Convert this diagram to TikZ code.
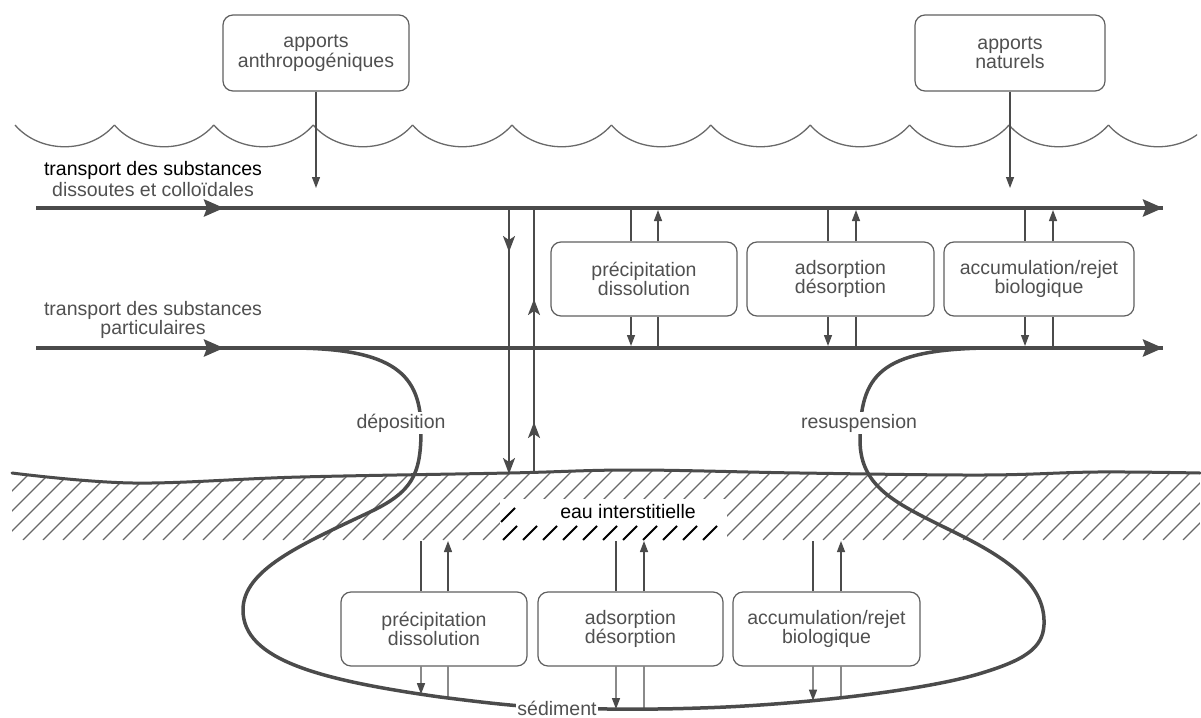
\documentclass[tikz,border=0pt]{standalone}
\usepackage{fontspec}
\setmainfont{Liberation Sans}
\usetikzlibrary{arrows.meta,intersections}
\definecolor{lc}{RGB}{75,75,75}
\definecolor{tc}{RGB}{80,80,80}
\definecolor{hc}{RGB}{105,105,105}
\definecolor{bc}{RGB}{95,95,95}
\begin{document}
\begin{tikzpicture}[x=1pt,y=-1pt,
  font=\fontsize{19.5}{19.5}\selectfont,
  box/.style={draw=bc, line width=1.2pt, rounded corners=10pt, text=tc, align=center, inner sep=0pt, minimum height=74pt},
  lbl/.style={text=tc, align=center, inner sep=0pt},
  blbl/.style={text=black, align=center, inner sep=0pt},
  cutlbl/.style={text=tc, fill=white, inner sep=2pt},
  mainline/.style={draw=lc, line width=3.8pt},
  bigtip/.style={-{Stealth[length=20pt,width=17pt,inset=3pt]}},
  thinl/.style={draw=lc, line width=1.3pt},
  sarrow/.style={thinl, -{Triangle[length=11pt,width=8pt]}},
  varrow/.style={draw=lc, line width=2.2pt},
  vtip/.style={-{Stealth[length=16pt,width=12pt,inset=4pt]}},
  wave/.style={draw=hc, line width=1.3pt},
  hatchline/.style={draw=hc, line width=1.2pt},
  ground/.style={draw=lc, line width=3pt, line cap=round},
  curve/.style={draw=lc, line width=3.5pt},
  blackdash/.style={draw=black, line width=1.8pt},
]
\useasboundingbox (0,0) rectangle (1201,717);

% ---------- reference coordinates ----------
\coordinate (dline) at (0,208);
\coordinate (pline) at (0,348);
\coordinate (hb) at (0,541);
\coordinate (dstart) at (36,208);
\coordinate (dmid) at (224,208);
\coordinate (dend) at (1163,208);
\coordinate (pstart) at (36,348);
\coordinate (pmid) at (224,348);
\coordinate (pend) at (1163,348);

% ---------- hatched sediment ----------
\begin{scope}
  \clip plot[smooth, tension=0.6] coordinates {(12,473) (133,483) (300,477) (509,473) (633,470) (800,473) (983,475) (1097,472) (1200,473)} -- (1200,540) -- (12,540) -- cycle;
  \foreach \x in {-77,-57,...,1203} \draw[hatchline] (\x,540) -- ++(80,-80);
\end{scope}
\fill[white] (500,499) rectangle (727,543);
\foreach \b in {503,523,...,703} \draw[blackdash] (\b,540) -- ++(14,-14);
\draw[blackdash] (501,522) -- ++(14,-14);
\node[blbl] (eau) at (628,512) {eau interstitielle};

\draw[ground] plot[smooth, tension=0.6] coordinates {(12,473) (133,483) (300,477) (509,473) (633,470) (800,473) (983,475) (1097,472) (1200,473)};

% ---------- water surface ----------
\begin{scope}
  \clip (0,100) rectangle (1197,160);
  \foreach \i in {0,...,11}
    \draw[wave] (15+99.4*\i,125) .. controls +(25,29) and +(-25,29) .. (114.4+99.4*\i,125);
\end{scope}

% ---------- deposition / resuspension / sediment curve ----------
\draw[curve, name path=sed] (290,348) .. controls (395,348) and (421,375) .. (421,430)
  .. controls (421,475) and (412,492) .. (370,512)
  .. controls (300,545) and (243,570) .. (243,610)
  .. controls (243,660) and (320,680) .. (440,697)
  .. controls (480,702) and (520,707) .. (557,708)
  .. controls (600,709) and (640,710) .. (700,708)
  .. controls (800,705) and (930,690) .. (985,672)
  .. controls (1030,658) and (1045,645) .. (1044,620)
  .. controls (1043,585) and (1010,560) .. (960,535)
  .. controls (900,505) and (860,490) .. (860,440)
  .. controls (860,375) and (880,350) .. (985,348);

\node[cutlbl] (depo) at (401,423) {déposition};
\node[cutlbl] (resu) at (859,423) {resuspension};
\node[cutlbl, inner sep=1pt] (sed) at (557,708) {sédiment};

% ---------- main transport lines ----------
\draw[mainline] (dstart) -- (dend);
\draw[mainline, bigtip] (dstart) -- (dmid);
\draw[mainline, bigtip] (dmid) -- (dend);
\draw[mainline] (pstart) -- (pend);
\draw[mainline, bigtip] (pstart) -- (pmid);
\draw[mainline, bigtip] (pmid) -- (pend);

\node[blbl] (tdT) at (153,170) {transport des substances};
\node[lbl] (tdD) at (153,190) {dissoutes et colloïdales};
\node[lbl] (tp) at (153,320) {transport des substances\\particulaires};

% ---------- inputs ----------
\node[box, minimum width=186pt, minimum height=76pt] (anth) at (316,53) {apports\\anthropogéniques};
\node[box, minimum width=190pt, minimum height=76pt] (nat) at (1010,53) {apports\\naturels};
\coordinate (anthEnd) at (316,188);
\coordinate (natEnd) at (1010,188);
\draw[sarrow] (anth.south) -- (anthEnd);
\draw[sarrow] (nat.south) -- (natEnd);

% ---------- vertical exchange water/sediment ----------
\coordinate (vaT) at (509,208);
\coordinate (vaM) at (509,252);
\coordinate (vaL) at (509,400);
\coordinate (vaB) at (509,474);
\coordinate (vbT) at (534,208);
\coordinate (vbM) at (534,299);
\coordinate (vbL) at (534,422);
\coordinate (vbB) at (534,473);
\coordinate (vbU) at (534,350);
\draw[varrow] (vaT) -- (vaB);
\draw[varrow, vtip] (vaT) -- (vaM);
\draw[varrow, vtip] (vaL) -- (vaB);
\draw[varrow] (vbB) -- (vbT);
\draw[varrow, vtip] (vbU) -- (vbM);
\draw[varrow, vtip] (vbB) -- (vbL);

% ---------- upper process boxes ----------
\node[box, minimum width=186pt] (U1) at (644,279) {précipitation\\dissolution};
\node[box, minimum width=187pt] (U2) at (840.5,279) {adsorption\\désorption};
\node[box, minimum width=190pt] (U3) at (1039,279) {accumulation/rejet\\biologique};

\foreach \b/\xa/\xb in {U1/631/658, U2/828/856, U3/1025/1053}{
  \coordinate (xa) at (\xa,0);
  \coordinate (xb) at (\xb,0);
  \draw[thinl] (dline -| xa) -- (\b.north -| xa);
  \draw[sarrow, shorten >=2pt] (\b.north -| xb) -- (dline -| xb);
  \draw[sarrow, shorten >=2pt] (\b.south -| xa) -- (pline -| xa);
  \draw[thinl] (pline -| xb) -- (\b.south -| xb);
}

% ---------- lower process boxes ----------
\node[box, minimum width=186pt] (L1) at (434,629) {précipitation\\dissolution};
\node[box, minimum width=185pt] (L2) at (630.5,629) {adsorption\\désorption};
\node[box, minimum width=187pt] (L3) at (826.5,629) {accumulation/rejet\\biologique};

\foreach \n/\xx in {e1a/421, e1b/448, e2a/616, e2b/644, e3a/813, e3b/841}{
  \path[name path=vv] (\xx,668) -- (\xx,716);
  \path[name intersections={of=sed and vv, by=\n}];
}

\foreach \b/\xa/\xb/\ea/\eb in {L1/421/448/e1a/e1b, L2/616/644/e2a/e2b, L3/813/841/e3a/e3b}{
  \coordinate (xa) at (\xa,0);
  \coordinate (xb) at (\xb,0);
  \draw[thinl] (hb -| xa) -- (\b.north -| xa);
  \draw[sarrow] (\b.north -| xb) -- (hb -| xb);
  \draw[sarrow] (\b.south -| xa) -- (\ea);
  \draw[thinl] (\eb) -- (\b.south -| xb);
}
\end{tikzpicture}
\end{document}
